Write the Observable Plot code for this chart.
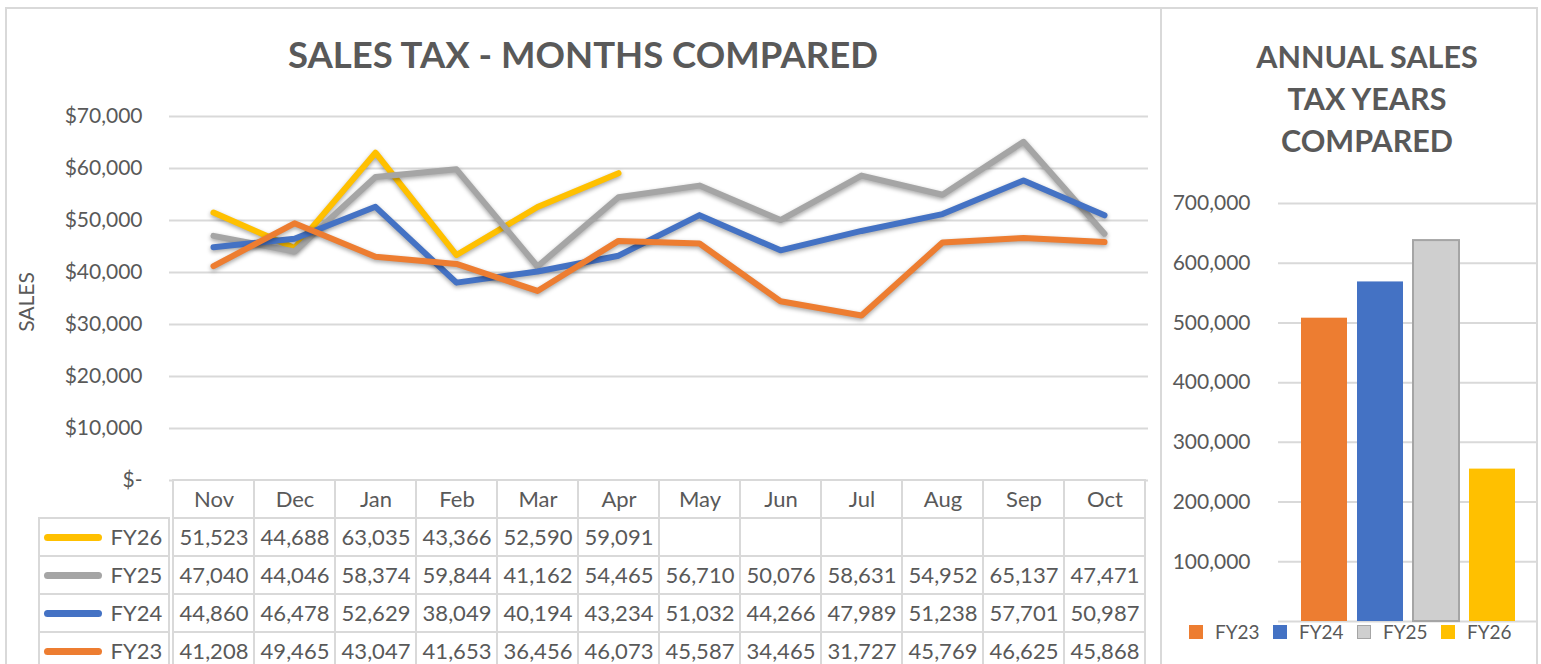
<!DOCTYPE html>
<html><head><meta charset="utf-8">
<script src="https://cdn.jsdelivr.net/npm/d3@7"></script>
<script src="https://cdn.jsdelivr.net/npm/@observablehq/plot@0.6"></script>
<style>
body{margin:0;background:#fff;width:1541px;height:664px;overflow:hidden;position:relative;font-family:Lato,"Open Sans",sans-serif;color:#595959}
.abs{position:absolute}
.panel{position:absolute;border:2px solid #d9d9d9;box-sizing:border-box}
.abs svg{overflow:visible}
#lines g[aria-label="line"] path{filter:drop-shadow(0px 2px 2px rgba(0,0,0,0.35))}
.title{position:absolute;font-weight:700;color:#595959;text-align:center;white-space:nowrap}
#legend{position:absolute;left:1189px;top:620px;display:flex;align-items:center;font-size:19px;color:#595959}
#legend .sw{width:14px;height:14px;margin-right:12px;box-sizing:border-box}
#legend .lb{width:58px}
</style></head><body>
<div class="panel" style="left:5px;top:7px;width:1157px;height:700px"></div>
<div class="panel" style="left:1160px;top:7px;width:378px;height:700px"></div>
<div class="title" style="left:283px;width:600px;top:30px;font-size:36.5px;line-height:48px">SALES TAX - MONTHS COMPARED</div>
<div class="title" style="left:1217px;width:300px;top:35px;font-size:30.5px;line-height:42px">ANNUAL SALES<br>TAX YEARS<br>COMPARED</div>
<div class="abs" style="left:25px;top:302px;transform:translate(-50%,-50%) rotate(-90deg);font-size:21px;color:#595959">SALES</div>
<div id="lines" class="abs" style="left:0;top:0"></div>
<div id="table" class="abs" style="left:169px;top:481px"></div>
<div id="keys" class="abs" style="left:39px;top:481px"></div>
<div id="bars" class="abs" style="left:1162px;top:180px"></div>
<div id="legend"></div>
<script>
const months = ["Nov","Dec","Jan","Feb","Mar","Apr","May","Jun","Jul","Aug","Sep","Oct"];
const series = ["FY26","FY25","FY24","FY23"];
const fy26 = [51523,44688,63035,43366,52590,59091];
const fy25 = [47040,44046,58374,59844,41162,54465,56710,50076,58631,54952,65137,47471];
const fy24 = [44860,46478,52629,38049,40194,43234,51032,44266,47989,51238,57701,50987];
const fy23 = [41208,49465,43047,41653,36456,46073,45587,34465,31727,45769,46625,45868];
const yTicks = [0,10000,20000,30000,40000,50000,60000,70000];
const annualYears = ["FY23","FY24","FY25","FY26"];
const annualTotals = [507943,568657,637908,255202];
const barTicks = [100000,200000,300000,400000,500000,600000,700000];
const colors = {FY23:"#ED7D31", FY24:"#4472C4", FY25:"#A5A5A5", FY26:"#FFC000"};

const values = {FY26: fy26, FY25: fy25, FY24: fy24, FY23: fy23};
const lineData = [];
series.forEach(s => values[s].forEach((v,i) => lineData.push({series:s, month:months[i], value:v})));
const colorScale = {domain: series, range: series.map(s => colors[s])};
const fmtComma = d3.format(",");
const txt = "#595959", grid = "#d9d9d9";
const baseStyle = {fontFamily:"Lato, 'Open Sans', sans-serif", color:txt, background:"transparent", overflow:"visible"};

// Line chart
const plotA = Plot.plot({
  width:1160, height:490, marginLeft:169, marginRight:12, marginTop:116, marginBottom:10,
  style:{...baseStyle, fontSize:"21px"},
  x:{type:"point", domain:months, padding:0.5, axis:null},
  y:{domain:[0,70000], ticks:yTicks, tickSize:0, tickPadding:27, label:null,
     tickFormat: d => d === 0 ? "$-" : "$" + fmtComma(d)},
  color: colorScale,
  marks:[
    Plot.ruleY(yTicks, {stroke:grid, strokeWidth:2}),
    ...series.map(s => Plot.line(lineData.filter(d => d.series === s),
      {x:"month", y:"value", stroke:"series", strokeWidth:6, strokeLinecap:"round", strokeLinejoin:"round"}))
  ]
});
document.getElementById("lines").appendChild(plotA);

// Data table
const rows = ["hdr", ...series];
const cellGrid = [];
rows.forEach(r => months.forEach(m => cellGrid.push({row:r, month:m})));
const plotB = Plot.plot({
  width:979, height:183, margin:0,
  style:{...baseStyle, fontSize:"22px"},
  x:{type:"band", domain:months, padding:0, axis:null},
  y:{type:"band", domain:rows, range:[-2,190.5], padding:0, axis:null},
  marks:[
    Plot.cell(cellGrid, {x:"month", y:"row", fill:"white", stroke:grid, strokeWidth:2}),
    Plot.text(months, {x:d => d, y:() => "hdr", text:d => d, fill:txt, fontSize:22}),
    Plot.text(lineData, {x:"month", y:"series", text:d => fmtComma(d.value), fill:txt, fontSize:22})
  ]
});
document.getElementById("table").appendChild(plotB);

// Legend keys column
const plotC = Plot.plot({
  width:130, height:183, margin:0,
  style:{...baseStyle, fontSize:"22px"},
  y:{type:"band", domain:rows, range:[-2,190.5], padding:0, axis:null},
  color: colorScale,
  marks:[
    Plot.cell(series, {y:d => d, fill:"white", stroke:grid, strokeWidth:2}),
    Plot.ruleY(series, {y:d => d, stroke:d => d, strokeWidth:7, strokeLinecap:"round", insetLeft:8.5, insetRight:70.5}),
    Plot.text(series, {y:d => d, text:d => d, frameAnchor:"left", dx:71, textAnchor:"start", fill:txt, fontSize:22})
  ]
});
document.getElementById("keys").appendChild(plotC);

// Annual bars
const barData = annualYears.map((y,i) => ({year:y, total:annualTotals[i]}));
const plotD = Plot.plot({
  width:375, height:445, marginLeft:116, marginRight:0, marginTop:23, marginBottom:4,
  style:{...baseStyle, fontSize:"21px"},
  x:{type:"band", domain:annualYears, paddingInner:0.18, paddingOuter:0.39, axis:null},
  y:{domain:[0,700000], ticks:barTicks, tickSize:0, tickPadding:28, tickFormat:fmtComma, label:null},
  color:{domain:annualYears, range:["#ED7D31","#4472C4","#CFCFCF","#FFC000"]},
  marks:[
    Plot.ruleY([0, ...barTicks], {stroke:grid, strokeWidth:2}),
    Plot.barY(barData, {x:"year", y:"total", fill:"year",
      stroke:d => d.year === "FY25" ? "#A5A5A5" : "none", strokeWidth:2})
  ]
});
document.getElementById("bars").appendChild(plotD);

// Bar legend
const legendFill = {FY23:"#ED7D31", FY24:"#4472C4", FY25:"#CFCFCF", FY26:"#FFC000"};
const leg = document.getElementById("legend");
annualYears.forEach(y => {
  const sw = document.createElement("div");
  sw.className = "sw";
  sw.style.background = legendFill[y];
  if (y === "FY25") sw.style.border = "1.5px solid #A5A5A5";
  const lb = document.createElement("div");
  lb.className = "lb";
  lb.textContent = y;
  leg.appendChild(sw); leg.appendChild(lb);
});
</script>
</body></html>
